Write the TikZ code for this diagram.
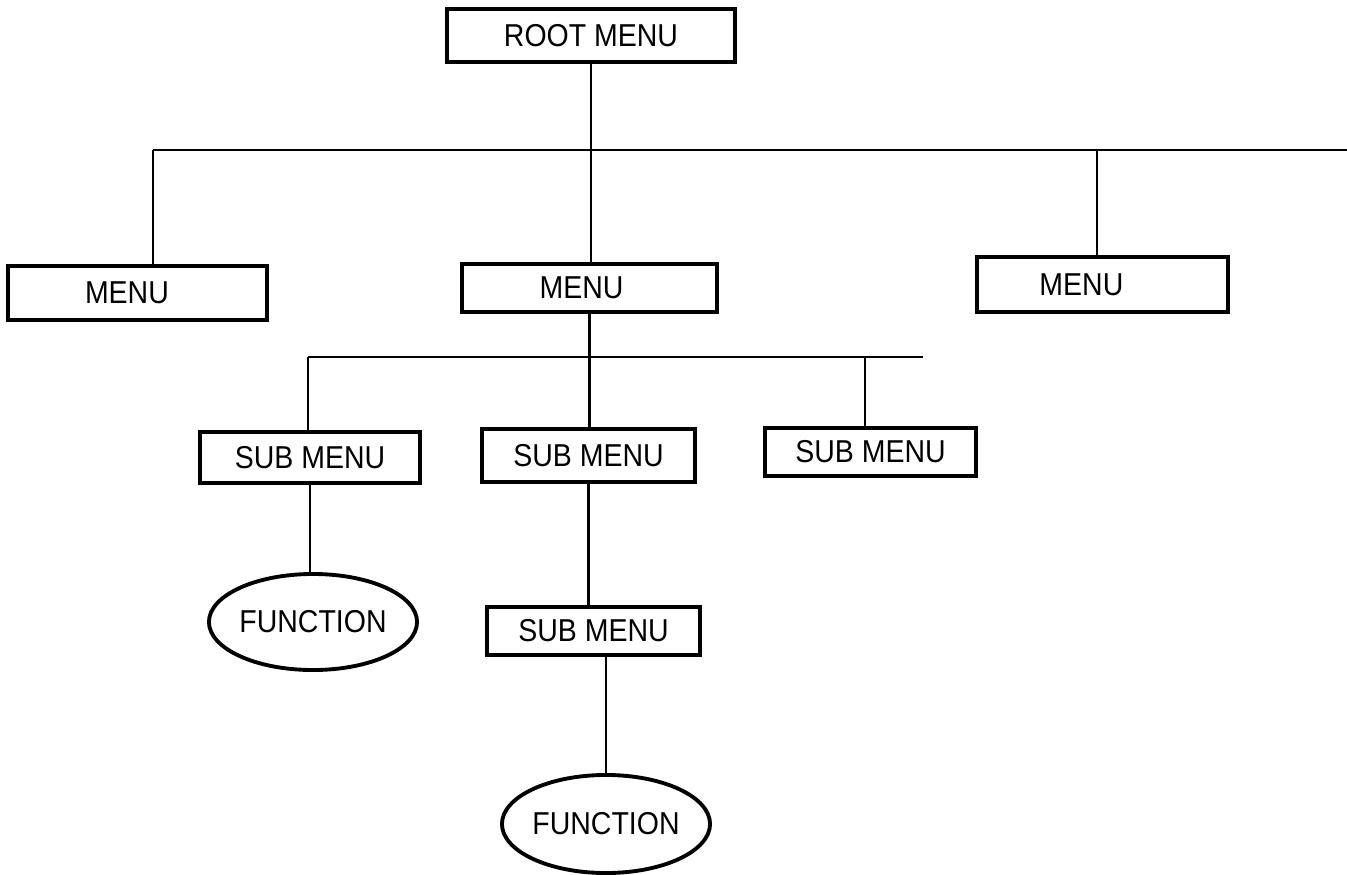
\documentclass[tikz,border=0pt]{standalone}
\usepackage{fontspec}
\setmainfont{Liberation Sans}[FakeStretch=0.9]
\usepackage{tikz}
\usetikzlibrary{positioning,shapes.geometric,calc}

\begin{document}
\begin{tikzpicture}[x=0.01cm,y=-0.01cm,
    menubox/.style={draw,line width=1.1pt,inner sep=0pt,anchor=center,font=\fontsize{9}{10}\selectfont},
    funcnode/.style={draw,ellipse,line width=1.1pt,inner sep=0pt,anchor=center,font=\fontsize{9}{10}\selectfont},
    link/.style={line width=0.7pt},
]
\useasboundingbox (0,0) rectangle (1347,875);
\node[menubox,minimum width=2.87cm,minimum height=0.53cm] (root)  at (591,35.5) {ROOT MENU};
\node[menubox,minimum width=2.59cm,minimum height=0.54cm] (menuL) at (137.5,293) {MENU\hspace*{6pt}};
\node[menubox,minimum width=2.55cm,minimum height=0.48cm] (menuM) at (589.5,288) {MENU\hspace*{4.5pt}};
\node[menubox,minimum width=2.51cm,minimum height=0.55cm] (menuR) at (1102.5,284.5) {MENU\hspace*{12pt}};
\node[menubox,minimum width=2.20cm,minimum height=0.51cm] (subA)  at (310,457.5) {SUB MENU};
\node[menubox,minimum width=2.13cm,minimum height=0.53cm] (subB)  at (588.5,455.5) {SUB MENU};
\node[menubox,minimum width=2.11cm,minimum height=0.48cm] (subC)  at (870.5,452) {SUB MENU};
\node[menubox,minimum width=2.13cm,minimum height=0.48cm] (subD)  at (593.5,631) {SUB MENU};
\node[funcnode,minimum width=1.94cm,minimum height=0.96cm] (funA)  at (313,622) {FUNCTION};
\node[funcnode,minimum width=1.84cm,minimum height=0.98cm] (funB)  at (606,824) {FUNCTION};
% bus lines
\coordinate (topW) at (153,150);
\coordinate (topE) at (1347,150);
\coordinate (topR) at (1097,150);
\coordinate (midW) at (308,357);
\coordinate (midE) at (923,357);
\coordinate (midR) at (865,357);
\draw[link] (topW) -- (topE);
\draw[link] (midW) -- (midE);
\draw[link] (root.south) -- (root.south |- menuM.north);
\draw[link] (menuM.south) -- (menuM.south |- subB.north);
\foreach \b/\n in {topW/menuL,topR/menuR,midW/subA,midR/subC}
  \draw[link] (\b) -- (\b |- \n.north);
\draw[link] (subA.south) -- (subA.south |- funA.north);
\draw[link] (subB.south) -- (subB.south |- subD.north);
\draw[link] (funB.north |- subD.south) -- (funB.north);
\end{tikzpicture}
\end{document}
